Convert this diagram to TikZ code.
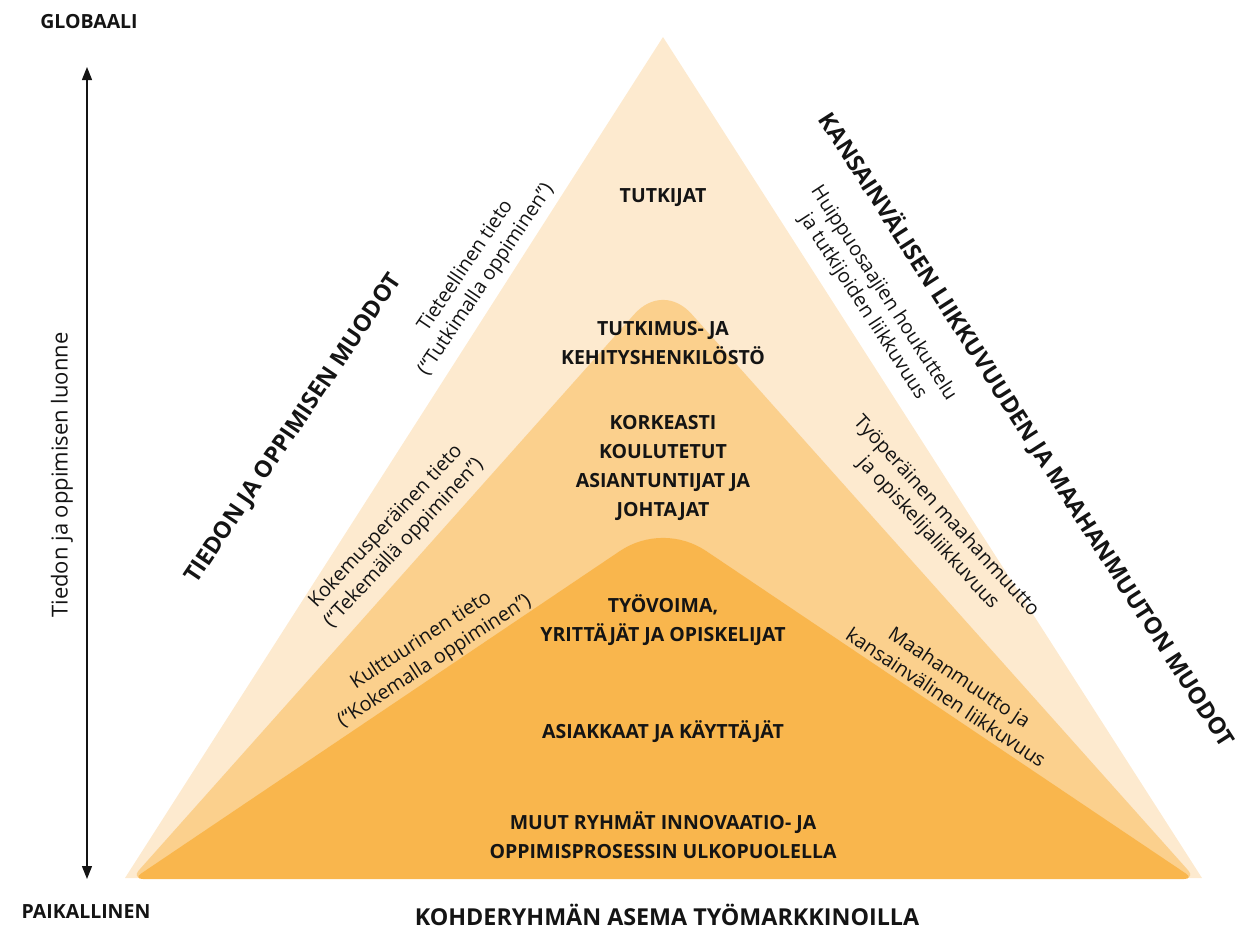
\documentclass[tikz,border=0pt]{standalone}
\usepackage{fontspec}
\setmainfont{Open Sans}
\usepackage{tikz}
\usetikzlibrary{calc,arrows.meta}
\definecolor{ink}{HTML}{141414}
\definecolor{pale}{HTML}{FDEACF}
\definecolor{mid}{HTML}{FBD08D}
\definecolor{deep}{HTML}{F9B64D}
\tikzset{
  axis/.style={draw=ink, line width=1.4pt, {Triangle[length=13pt,width=10pt]}-{Triangle[length=13pt,width=10pt]}},
  grp/.style={text=ink, font=\fontsize{19.5}{28.7}\selectfont\bfseries, align=center, inner sep=0pt},
  head/.style={text=ink, font=\fontsize{23.3}{28}\selectfont\bfseries, inner sep=0pt},
  side/.style={text=ink, font=\fontsize{19.8}{24.5}\selectfont, align=center, inner sep=0pt},
  pole/.style={text=ink, font=\fontsize{19.5}{23}\selectfont\bfseries, inner sep=0pt},
}
\begin{document}
\begin{tikzpicture}[x=1pt, y=-1pt]
  \useasboundingbox (0,0) rectangle (1259,929);
  % layers of the pyramid
  \coordinate (apexA) at (663,37);
  \coordinate (blA) at (125,878);
  \coordinate (brA) at (1202,878);
  \coordinate (apexB) at (663,282);
  \coordinate (blB) at (132,878);
  \coordinate (brB) at (1195,878);
  \coordinate (apexC) at (663,522);
  \coordinate (blC) at (133,879);
  \coordinate (brC) at (1194,879);
  % where the rounded tops start
  \coordinate (bL) at ($(apexB)!53pt!(blB)$);
  \coordinate (bR) at ($(apexB)!53pt!(brB)$);
  \coordinate (cL) at ($(apexC)!62pt!(blC)$);
  \coordinate (cR) at ($(apexC)!62pt!(brC)$);
  \fill[pale] (blA) -- (apexA) -- (brA) -- cycle;
  \fill[mid, rounded corners=10pt] (663,878) -- (blB) -- (bL)
    .. controls ($(bL)!0.667!(apexB)$) and ($(bR)!0.667!(apexB)$) .. (bR) -- (brB) -- cycle;
  \fill[deep, rounded corners=10pt] (663,879) -- (blC) -- (cL)
    .. controls ($(cL)!0.667!(apexC)$) and ($(cR)!0.667!(apexC)$) .. (cR) -- (brC) -- cycle;
  % vertical axis
  \coordinate (up) at (87,67);
  \coordinate (down) at (87,879);
  \draw[axis] (down) -- (up);
  \node[pole] (glob) at (89,22) {GLOBAALI};
  \node[pole] (paik) at (86,912) {PAIKALLINEN};
  \node[side, rotate=90, font=\fontsize{22}{26}\selectfont] (luonne) at (62,475) {Tiedon ja oppimisen luonne};
  % target groups
  \node[grp] (tutk) at (663,198) {TUTKIJAT};
  \node[grp] (tkh) at (663,343) {TUTKIMUS- JA\\KEHITYSHENKILÖSTÖ};
  \node[grp] (kork) at (663,468) {KORKEASTI\\KOULUTETUT\\ASIANTUNTIJAT JA\\JOHTAJAT};
  \node[grp] (tyov) at (663,620) {TYÖVOIMA,\\YRITTÄJÄT JA OPISKELIJAT};
  \node[grp] (asiak) at (663,732) {ASIAKKAAT JA KÄYTTÄJÄT};
  \node[grp] (muut) at (663,835) {MUUT RYHMÄT INNOVAATIO- JA\\OPPIMISPROSESSIN ULKOPUOLELLA};
  \node[grp, font=\fontsize{23.3}{28}\selectfont\bfseries] (asema) at (667,915) {KOHDERYHMÄN ASEMA TYÖMARKKINOILLA};
  % sides
  \node[head, rotate=56] (tiedon) at (294,429) {TIEDON JA OPPIMISEN MUODOT};
  \node[head, rotate=-57.3] (kans) at (1027,430) {KANSAINVÄLISEN LIIKKUVUUDEN JA MAAHANMUUTON MUODOT};
  \node[side, rotate=56] (tiet) at (476,273) {Tieteellinen tieto\\(“Tutkimalla oppiminen”)};
  \node[side, rotate=47] (kokem) at (395,535) {Kokemusperäinen tieto\\(“Tekemällä oppiminen”)};
  \node[side, rotate=33] (kult) at (428,651) {Kulttuurinen tieto\\(“Kokemalla oppiminen”)};
  \node[side, rotate=-57] (huip) at (873,300) {Huippuosaajien houkuttelu\\ja tutkijoiden liikkuvuus};
  \node[side, rotate=-47.5] (tyop) at (937,525) {Työperäinen maahanmuutto\\ja opiskelijaliikkuvuus};
  \node[side, rotate=-33.5] (maah) at (953,687) {Maahanmuutto ja\\kansainvälinen liikkuvuus};
\end{tikzpicture}
\end{document}
